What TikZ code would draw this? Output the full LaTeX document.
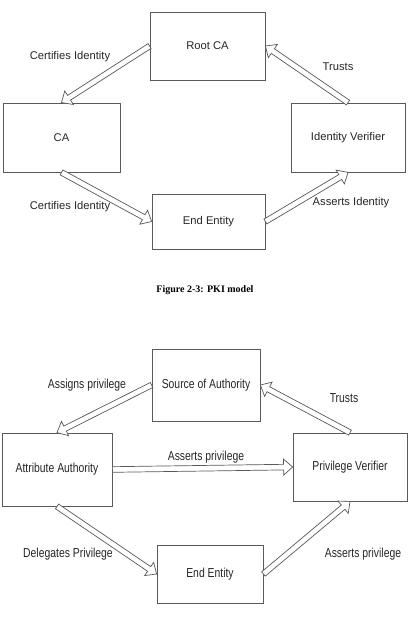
\documentclass[tikz,border=0pt]{standalone}
\usepackage{fontspec}
\setmainfont{Liberation Sans}
\newfontfamily\capfont{Liberation Serif}
\newfontfamily\narrowfont[FakeStretch=0.8]{Liberation Sans}
\usetikzlibrary{calc}
\newcommand{\arrw}{2.8pt}
\newcommand{\arrH}{8pt}
\newcommand{\arrh}{9pt}
\newcommand{\hollowarrow}[2]{%
  \coordinate (hb) at ($(#2)!\arrh!(#1)$);
  \draw[harrow] ($(#1)!\arrw!-90:(#2)$) -- ($(hb)!\arrw!90:(#1)$) -- ($(hb)!\arrH!90:(#1)$)
    -- (#2) -- ($(hb)!\arrH!-90:(#1)$) -- ($(hb)!\arrw!-90:(#1)$) -- ($(#1)!\arrw!90:(#2)$) -- cycle;}
\tikzset{
  box/.style={draw=black!65, line width=0.8pt, inner sep=0pt, text=black!85},
  topbox/.style={box, font=\fontsize{11.2}{13}\selectfont},
  botbox/.style={box, font=\narrowfont\fontsize{13}{15}\selectfont},
  toplbl/.style={inner sep=0pt, text=black!85, font=\fontsize{11.2}{13}\selectfont},
  botlbl/.style={inner sep=0pt, text=black!85, font=\narrowfont\fontsize{13}{15}\selectfont},
  harrow/.style={draw=black!65, line width=0.7pt, fill=white, line join=miter}
}
\begin{document}
\begin{tikzpicture}[x=1pt,y=-1pt]
\useasboundingbox[fill=white] (0,0) rectangle (411,634);
% ---- top diagram ----
\node[topbox, minimum width=115pt, minimum height=68pt] (rca) at (207.5,46) {Root CA};
\node[topbox, minimum width=117pt, minimum height=69pt] (ca) at (61.5,137.5) {CA};
\node[topbox, minimum width=114pt, minimum height=69pt] (iv) at (348,137.5) {Identity Verifier};
\node[topbox, minimum width=113pt, minimum height=55pt] (ee) at (208.5,221.5) {End Entity};
\hollowarrow{rca.west}{ca.north}
\hollowarrow{ca.south}{ee.west}
\hollowarrow{ee.east}{iv.south}
\hollowarrow{iv.north}{rca.east}
\node[toplbl] (l1) at (70,57) {Certifies Identity};
\node[toplbl] (l2) at (338,67) {Trusts};
\node[toplbl] (l3) at (70,207) {Certifies Identity};
\node[toplbl] (l4) at (351,203) {Asserts Identity};
\node[inner sep=0pt, font=\capfont\bfseries\fontsize{10}{12}\selectfont] (cap) at (205,290) {Figure 2-3: PKI model};
% ---- bottom diagram ----
\node[botbox, minimum width=108pt, minimum height=72pt] (soa) at (206,385) {Source of Authority};
\node[botbox, minimum width=110pt, minimum height=73pt] (aa) at (57,469.5) {Attribute Authority};
\node[botbox, minimum width=114pt, minimum height=68pt] (pv) at (350,467) {Privilege Verifier};
\node[botbox, minimum width=106pt, minimum height=58pt] (ee2) at (210,574) {End Entity};
\hollowarrow{soa.west}{aa.north}
\hollowarrow{aa.east}{pv.west}
\hollowarrow{aa.south}{ee2.west}
\hollowarrow{ee2.east}{pv.south}
\hollowarrow{pv.north}{soa.east}
\node[botlbl] (m1) at (87,385) {Assigns privilege};
\node[botlbl] (m2) at (344,398) {Trusts};
\node[botlbl] (m3) at (206,457) {Asserts privilege};
\node[botlbl] (m4) at (68,554) {Delegates Privilege};
\node[botlbl] (m5) at (363,554) {Asserts privilege};
\end{tikzpicture}
\end{document}
